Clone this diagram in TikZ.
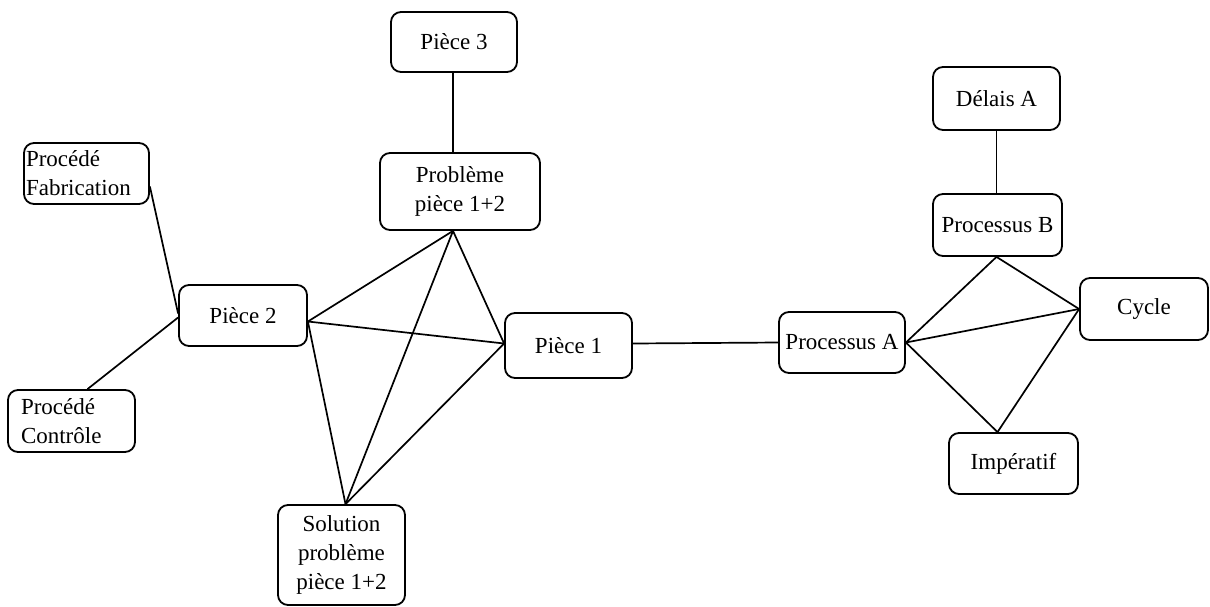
\documentclass[tikz,border=0pt]{standalone}
\usepackage{fontspec}
\setmainfont{Liberation Serif}
\begin{document}
\begin{tikzpicture}[x=1pt,y=-1pt,
  box/.style={draw, rounded corners=10pt, line width=1.8pt, inner sep=0pt, align=center,
              font=\fontsize{23}{29}\selectfont},
  lbox/.style={box, align=left},
  link/.style={line width=1.7pt}]
\useasboundingbox (0,0) rectangle (1210,606);
% nodes
\node[box, minimum width=126pt, minimum height=60pt] (p3) at (454,42) {Pièce 3};
\node[box, minimum width=160pt, minimum height=77pt] (prob) at (460,191.5) {Problème\\pièce 1+2};
\node[lbox, text width=121pt, inner xsep=2pt, minimum height=61pt] (fab) at (86.5,173.5) {Procédé\\Fabrication};
\node[lbox, text width=101pt, inner xsep=13pt, minimum height=62pt] (ctrl) at (71.5,421) {Procédé\\Contrôle};
\node[box, minimum width=128pt, minimum height=61pt] (p2) at (243,315.5) {Pièce 2};
\node[box, minimum width=127pt, minimum height=65pt] (p1) at (568.5,345.5) {Pièce 1};
\node[box, minimum width=127pt, minimum height=100pt] (sol) at (341.5,555) {Solution\\problème\\pièce 1+2};
\node[box, minimum width=126pt, minimum height=61pt] (pa) at (842,342.5) {Processus A};
\node[box, minimum width=129pt, minimum height=62pt] (pb) at (997.5,225) {Processus B};
\node[box, minimum width=127pt, minimum height=63pt] (da) at (996.5,98.5) {Délais A};
\node[box, minimum width=128pt, minimum height=62pt] (cy) at (1144,309) {Cycle};
\node[box, minimum width=129pt, minimum height=61pt] (imp) at (1013.5,463.5) {Impératif};
% connectors
\draw[link] ([xshift=-1pt]p3.south) -- ([xshift=-7pt]prob.north);
\draw[link] ([yshift=-13pt]fab.east) -- ([yshift=2pt]p2.west);
\draw[link] ([xshift=16pt]ctrl.north) -- ([yshift=-2pt]p2.west);
\draw[link] ([yshift=-6pt]p2.east) -- ([xshift=-7pt]prob.south);
\draw[link] ([yshift=-6pt]p2.east) -- ([yshift=2pt]p1.west);
\draw[link] ([yshift=-6pt]p2.east) -- ([xshift=4pt]sol.north);
\draw[link] ([xshift=-7pt]prob.south) -- ([yshift=2pt]p1.west);
\draw[link] ([xshift=-7pt]prob.south) -- ([xshift=4pt]sol.north);
\draw[link] ([yshift=2pt]p1.west) -- ([xshift=4pt]sol.north);
\draw[link] ([yshift=2pt]p1.east) -- (pa.west);
\draw[link] (pa.east) -- ([xshift=-1pt]pb.south);
\draw[link] (pa.east) -- (cy.west);
\draw[link] (pa.east) -- ([xshift=-16pt]imp.north);
\draw[link] ([xshift=-1pt]pb.south) -- (cy.west);
\draw[link] (cy.west) -- ([xshift=-16pt]imp.north);
\draw[link] (da.south) -- ([xshift=-1pt]pb.north);
\end{tikzpicture}
\end{document}
